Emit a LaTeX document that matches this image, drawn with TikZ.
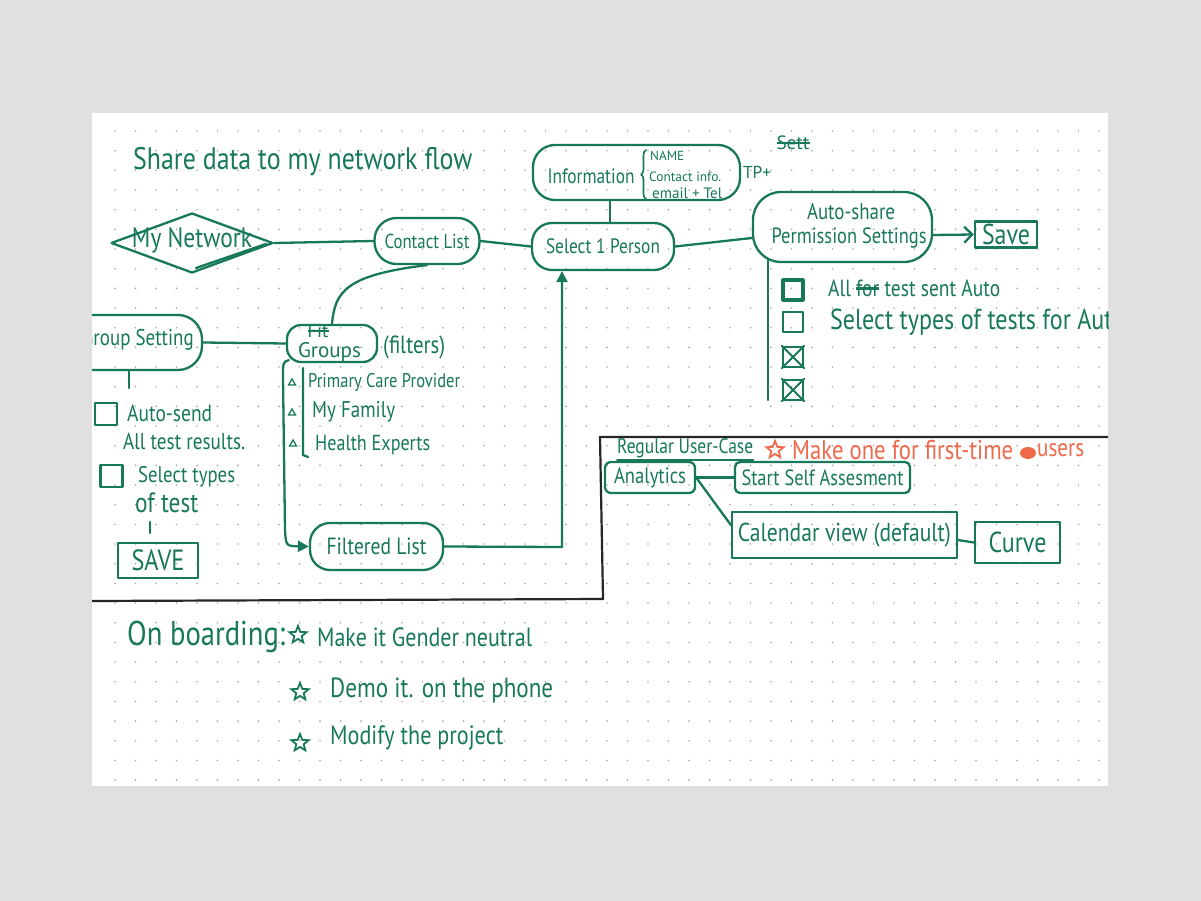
\documentclass[tikz,border=0pt]{standalone}
\usepackage{fontspec}
\setmainfont{PT Sans}
\usepackage{graphicx}
\usetikzlibrary{shapes.geometric,arrows.meta,decorations.pathreplacing}
\definecolor{ink}{HTML}{17785A}
\definecolor{orangeink}{HTML}{F0694B}
\definecolor{framec}{HTML}{262626}
\definecolor{bgc}{HTML}{E0E0E0}
\definecolor{dotc}{HTML}{A8A8A8}
\newcommand\tw[2]{\resizebox{#1pt}{!}{\scalebox{1}[1.2]{#2}}}
\newcommand\twn[2]{\resizebox{#1pt}{!}{#2}}
\newcommand\strk[1]{\setbox0\hbox{#1}\rlap{\rule[0.28em]{\wd0}{0.1em}}\box0\relax}
\tikzset{
  inkline/.style={draw=ink, text=ink, line width=2.3pt, line cap=round, line join=round},
  rbox/.style={inkline, rounded corners=#1, inner sep=0pt},
  rbox/.default=20pt,
  sbox/.style={inkline, inner sep=0pt},
  lbl/.style={inner sep=0pt, text=ink},
  olbl/.style={inner sep=0pt, text=orangeink},
  cbox/.style={inkline, minimum size=20pt, inner sep=0pt},
  conn/.style={inkline},
  framel/.style={draw=framec, line width=2.2pt, line cap=round, line join=round},
  bullet/.style={regular polygon, regular polygon sides=3, draw=ink, line width=1.3pt, minimum size=8pt, inner sep=0pt},
  hstar/.style={star, star points=5, star point ratio=2.3, line width=1.8pt, minimum size=18pt, inner sep=0pt},
}
\begin{document}
\begin{tikzpicture}[x=1pt,y=-1pt]
\useasboundingbox (0,0) rectangle (1201,901);
\fill[bgc] (0,0) rectangle (1201,901);
\fill[white] (92,113) rectangle (1108,786);
\begin{scope}
\clip (92,113) rectangle (1108,786);
% dot grid
\foreach \i in {0,...,48} {
  \foreach \j in {0,...,33} {
    \fill[dotc] ({115+20.5*\i},{131+19.67*\j}) circle[radius=0.9];
  }
}
% title
\node[lbl, anchor=west] (title) at (133,162) {\tw{339}{Share data to my network flow}};

% top flow
\node[diamond, inkline, minimum width=162pt, minimum height=60pt, aspect=2.7, inner sep=0pt] (mynet) at (192,243) {};
\node[lbl] (mynetT) at (192,240) {\tw{120}{My Network}};
\draw[conn] (196,268) -- (266,244);
\node[rbox=22pt, minimum width=105pt, minimum height=46pt] (contact) at (427,241) {\tw{85}{Contact List}};
\node[rbox=20pt, minimum width=142pt, minimum height=47pt] (select) at (603,246.5) {\tw{114}{Select 1 Person}};
\node[rbox=22pt, minimum width=207pt, minimum height=55pt] (info) at (636.5,172.5) {};
\node[lbl] (infoT) at (591,176) {\tw{87}{Information}};
\draw[inkline, line width=1.6pt, decorate, decoration={brace, amplitude=5pt}] (646,199) -- (646,150);
\node[lbl, anchor=west] (nameT) at (650,156) {\twn{34}{NAME}};
\node[lbl, anchor=west] (contactinfoT) at (649,177) {\twn{72}{Contact info.}};
\node[lbl, anchor=west] (emailT) at (652,193) {\twn{70}{email + Tel}};
\node[lbl] (tpT) at (757,172) {\twn{28}{TP+}};
\node[lbl] (settT) at (793,143) {\twn{33}{\strk{Sett}}};
\node[rbox=28pt, minimum width=179pt, minimum height=70pt] (auto) at (842.5,227) {};
\node[lbl] (autoT1) at (851,212) {\tw{88}{Auto-share}};
\node[lbl] (autoT2) at (849,238) {\tw{155}{Permission Settings}};
\node[sbox, minimum width=62pt, minimum height=26pt] (save) at (1006,234.5) {\tw{48}{Save}};

\coordinate (ij) at (610,190);
\draw[conn] (info.south -| ij) -- (select.north -| ij);
\draw[conn] (mynet.east) -- (contact.west);
\draw[conn] (contact.east) -- (select.west);
\draw[conn] (select.east) -- ([yshift=-11pt]auto.west);
\draw[conn, -{Straight Barb[length=8pt,width=16pt]}] ([yshift=-8pt]auto.east) -- (save.west);

% auto-share options
\coordinate (av) at (768,400);
\draw[conn] (768,259) -- (av);
\node[cbox, line width=3.2pt] (cb1) at (793,290) {};
\node[cbox] (cb2) at (793,322) {};
\node[cbox] (cb3) at (793,357) {};
\node[cbox] (cb4) at (793,390) {};
\draw[conn, line width=1.8pt] (cb3.north west) -- (cb3.south east) (cb3.north east) -- (cb3.south west);
\draw[conn, line width=1.8pt] (cb4.north west) -- (cb4.south east) (cb4.north east) -- (cb4.south west);
\node[lbl, anchor=west] (cbT1) at (828,288) {\tw{172}{All \strk{for} test sent Auto}};
\node[lbl, anchor=west] (cbT2) at (830,322) {\tw{295}{Select types of tests for Auto}};

% group setting
\node[rbox=24pt, minimum width=170pt, minimum height=55pt] (groupset) at (117,342.5) {};
\node[lbl, anchor=east] (groupsetT) at (194,340) {\tw{112}{Group Setting}};
\node[rbox=14pt, minimum width=90pt, minimum height=37pt] (groups) at (332,343.5) {};
\node[lbl] (groupsT) at (329.5,352) {\twn{63}{Groups}};
\node[lbl] (fitT) at (318,331) {\twn{21}{\strk{Fit}}};
\node[lbl, anchor=west] (filtersT) at (383,347) {\tw{62}{(filters)}};
\draw[conn] (groupset.east) -- (groups.west);
\draw[conn] (contact.south) .. controls (345,275) and (335,292) .. (groups.north);

\coordinate (gv) at (129,388);
\draw[conn] (groupset.south -| gv) -- (gv);
\node[sbox, minimum size=22pt] (gcb1) at (106,414) {};
\node[lbl, anchor=west] (gT1) at (127,413) {\tw{85}{Auto-send}};
\node[lbl, anchor=west] (gT2) at (123,441) {\tw{122}{All test results.}};
\node[sbox, minimum size=22pt] (gcb2) at (111.5,476) {};
\node[lbl, anchor=west] (gT3) at (138,477) {\tw{97}{Select types}};
\node[lbl, anchor=west] (gT4) at (135,503) {\tw{63}{of test}};
\node[sbox, minimum width=80pt, minimum height=35pt] (gsave) at (158,560.5) {\tw{53}{SAVE}};
\coordinate (gt1) at (150,522);
\coordinate (gt2) at (150,533);
\draw[conn] (gt1) -- (gt2);

% group list
\coordinate (gl1) at (303,368);
\coordinate (gl2) at (303,455);
\draw[conn] (gl1) -- (gl2) -- ++(5,2);
\node[bullet] (b1) at (292,383) {};
\node[bullet] (b2) at (292,413) {};
\node[bullet] (b3) at (293,444) {};
\node[lbl, anchor=west] (l1) at (308,382) {\tw{152}{Primary Care Provider}};
\node[lbl, anchor=west] (l2) at (312,412) {\tw{83}{My Family}};
\node[lbl, anchor=west] (l3) at (315,445) {\tw{115}{Health Experts}};

\node[rbox=20pt, minimum width=133pt, minimum height=47pt] (filtered) at (376.5,546.5) {\tw{100}{Filtered List}};
\draw[conn, -{Triangle[length=11pt,width=11pt]}] ([shift={(3,-3)}]groups.south west) .. controls (283,362) .. (283,378) -- (285,530) .. controls (286,546) .. (filtered.west);
\coordinate (fs) at (562,547);
\draw[conn, -{Triangle[length=11pt,width=11pt]}] (filtered.east) -- (fs) -- (fs |- select.south);

% frame
\draw[framel] (92,601) -- (603,599) -- (600,437) -- (1108,437);

% regular user case
\node[lbl, anchor=west] (ruc) at (617,448) {\tw{136}{Regular User-Case}};
\draw[conn, line width=1.6pt] ([yshift=-2pt]ruc.south west) -- ([yshift=-2pt]ruc.south east);
\node[hstar, draw=orangeink] (ostar) at (775,450) {};
\node[olbl, anchor=west] (oT1) at (792,450) {\tw{221}{Make one for first-time}};
\fill[orangeink] (1028,453) ellipse[x radius=8, y radius=6];
\node[olbl, anchor=west] (oT2) at (1037,450) {\tw{47}{users}};

\node[rbox=6pt, minimum width=90pt, minimum height=31pt] (analytics) at (650,477.5) {\tw{72}{Analytics}};
\node[rbox=5pt, minimum width=175pt, minimum height=31pt] (start) at (822.5,477.5) {\tw{162}{Start Self Assesment}};
\node[sbox, minimum width=225pt, minimum height=46pt] (calendar) at (844.5,535) {\tw{213}{Calendar view (default)}};
\node[sbox, minimum width=85pt, minimum height=41pt] (curve) at (1017.5,542.5) {\tw{58}{Curve}};
\draw[conn] (analytics.east) -- (start.west);
\draw[conn] (analytics.east) -- ([yshift=10pt]calendar.west);
\draw[conn] ([yshift=-5pt]calendar.east) -- (curve.west);

% onboarding
\node[lbl, anchor=west] (onb) at (127,637) {\tw{158}{On boarding:}};
\node[hstar, draw=ink] (s1) at (298,635) {};
\node[lbl, anchor=west] (onb1) at (317,637) {\tw{215}{Make it Gender neutral}};
\node[hstar, draw=ink] (s2) at (300,692) {};
\node[lbl, anchor=west] (onb2) at (330,690) {\tw{223}{Demo it. on the phone}};
\node[hstar, draw=ink] (s3) at (300,743) {};
\node[lbl, anchor=west] (onb3) at (330,738) {\tw{173}{Modify the project}};
\end{scope}
\end{tikzpicture}
\end{document}
